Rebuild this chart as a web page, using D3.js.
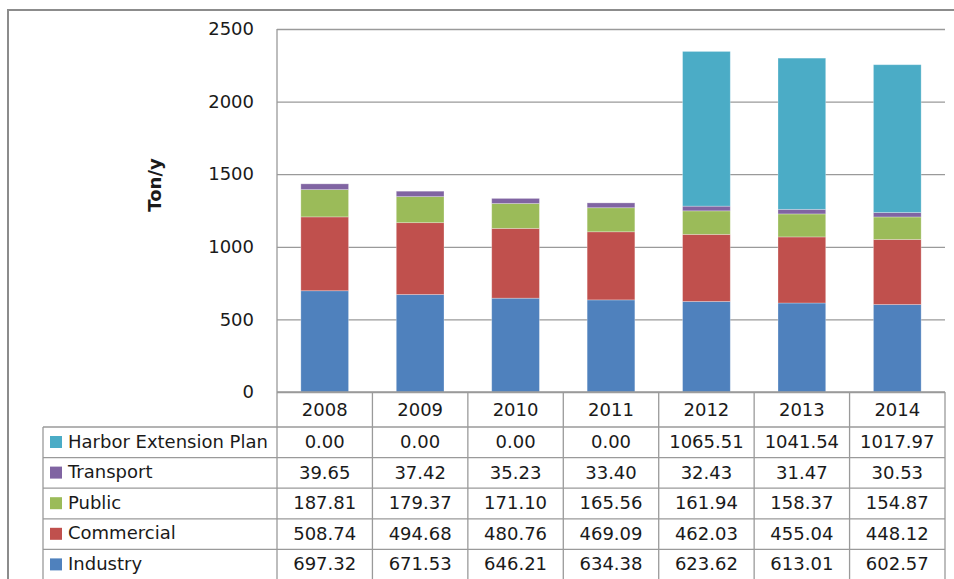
<!DOCTYPE html>
<html>
<head>
<meta charset="utf-8">
<script src="https://cdn.jsdelivr.net/npm/d3@7/dist/d3.min.js"></script>
<style>
  html, body { margin: 0; padding: 0; background: #fff; }
  svg { display: block; }
  text { font-family: "DejaVu Sans", sans-serif; fill: #1a1a1a; }
</style>
</head>
<body>
<svg id="chart" width="954" height="579"></svg>
<script>
const years = ["2008", "2009", "2010", "2011", "2012", "2013", "2014"];
const seriesNames = ["Industry", "Commercial", "Public", "Transport", "Harbor Extension Plan"];
const industry   = [697.32, 671.53, 646.21, 634.38, 623.62, 613.01, 602.57];
const commercial = [508.74, 494.68, 480.76, 469.09, 462.03, 455.04, 448.12];
const publicVals = [187.81, 179.37, 171.10, 165.56, 161.94, 158.37, 154.87];
const transport  = [39.65, 37.42, 35.23, 33.40, 32.43, 31.47, 30.53];
const harbor     = [0.00, 0.00, 0.00, 0.00, 1065.51, 1041.54, 1017.97];
const colors = ["#4F81BD", "#C0504D", "#9BBB59", "#8064A2", "#4BACC6"];
const yTicks = [0, 500, 1000, 1500, 2000, 2500];
const yTitle = "Ton/y";

const valuesBySeries = [industry, commercial, publicVals, transport, harbor];
const rows = years.map((y, i) => {
  const r = { year: y };
  seriesNames.forEach((s, k) => { r[s] = valuesBySeries[k][i]; });
  return r;
});

const svg = d3.select("#chart");
const plotL = 277, plotR = 945, plotT = 29, plotB = 392;
const tableL = 43, headerB = 427, rowH = 30.6;
const gridColor = "#9a9a9a";

// outer frame
svg.append("rect").attr("x", 8).attr("y", 10).attr("width", 1000).attr("height", 1000)
  .attr("fill", "none").attr("stroke", "#8c8c8c").attr("stroke-width", 2);

const y = d3.scaleLinear().domain([0, 2500]).range([plotB, plotT]);
const x = d3.scaleBand().domain(years).range([plotL, plotR]).paddingInner(0.5).paddingOuter(0.25);
const xc = d3.scaleBand().domain(years).range([plotL, plotR]);

// gridlines + tick labels via axis
const yAxis = d3.axisLeft(y).tickValues(yTicks).tickSize(-(plotR - plotL)).tickPadding(23).tickFormat(d3.format("d"));
const gA = svg.append("g").attr("transform", `translate(${plotL},0)`).call(yAxis);
gA.select(".domain").remove();
gA.selectAll(".tick line").attr("stroke", gridColor).attr("stroke-width", 1.3);
gA.selectAll(".tick text").attr("font-size", 18).attr("fill", "#1a1a1a")
  .attr("font-family", "DejaVu Sans, sans-serif");

// stacked bars
const stack = d3.stack().keys(seriesNames)(rows);
svg.append("g").selectAll("g").data(stack).join("g")
  .attr("fill", (d, i) => colors[i])
  .selectAll("rect").data(d => d).join("rect")
  .attr("x", d => x(d.data.year))
  .attr("width", x.bandwidth())
  .attr("y", d => y(d[1]))
  .attr("height", d => Math.max(0, y(d[0]) - y(d[1])))
  .attr("stroke", "rgba(255,255,255,0.35)").attr("stroke-width", 0.8);

// y axis title
svg.append("text").attr("transform", "translate(154,185) rotate(-90)")
  .attr("text-anchor", "middle").attr("dominant-baseline", "central")
  .attr("font-family", "'DejaVu Sans Condensed', 'DejaVu Sans', sans-serif")
  .attr("font-size", 18).attr("font-weight", "bold").text(yTitle);

// table lines
const tableB = headerB + rowH * 5;
const lines = svg.append("g").attr("stroke", gridColor).attr("stroke-width", 1.3);
lines.append("line").attr("x1", plotL).attr("x2", plotR).attr("y1", plotB).attr("y2", plotB);
lines.append("line").attr("x1", plotL).attr("x2", plotL).attr("y1", plotT).attr("y2", tableB + 5);
years.forEach(yr => {
  const xr = xc(yr) + xc.bandwidth();
  lines.append("line").attr("x1", xr).attr("x2", xr).attr("y1", plotB).attr("y2", tableB + 5);
});
for (let k = 0; k <= 5; k++) {
  const yy = headerB + k * rowH;
  lines.append("line").attr("x1", tableL).attr("x2", plotR).attr("y1", yy).attr("y2", yy);
}
lines.append("line").attr("x1", tableL).attr("x2", tableL).attr("y1", headerB).attr("y2", tableB + 5);

// header years
svg.append("g").selectAll("text").data(years).join("text")
  .attr("x", d => xc(d) + xc.bandwidth() / 2).attr("y", 416)
  .attr("text-anchor", "middle").attr("font-size", 18).text(d => d);

// table rows (reverse order)
const tableOrder = seriesNames.map((s, i) => ({ name: s, color: colors[i], vals: valuesBySeries[i] })).reverse();
const fmt = d3.format(".2f");
tableOrder.forEach((r, k) => {
  const top = headerB + k * rowH;
  svg.append("rect").attr("x", 50).attr("y", top + 9).attr("width", 12).attr("height", 12).attr("fill", r.color);
  svg.append("text").attr("x", 68).attr("y", top + 20.5).attr("font-size", 18).text(r.name);
  years.forEach((yr, i) => {
    svg.append("text").attr("x", xc(yr) + xc.bandwidth() / 2).attr("y", top + 21)
      .attr("text-anchor", "middle").attr("font-size", 18).text(fmt(r.vals[i]));
  });
});
</script>
</body>
</html>
